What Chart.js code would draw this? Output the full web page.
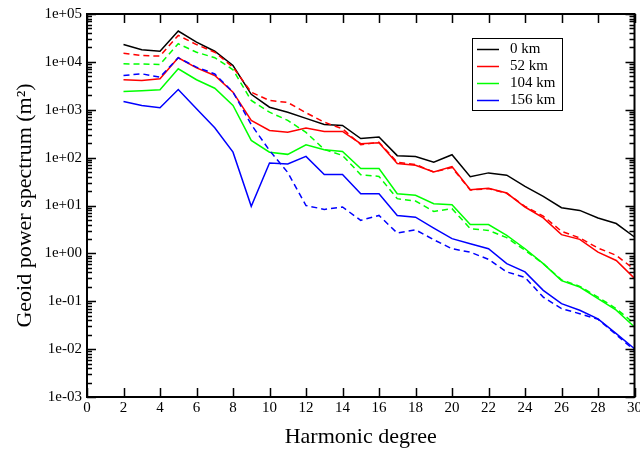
<!DOCTYPE html>
<html>
<head>
<meta charset="utf-8">
<script src="https://cdn.jsdelivr.net/npm/chart.js@4/dist/chart.umd.min.js"></script>
<style>
  html, body { margin: 0; padding: 0; background: #fff; }
  #wrap { width: 640px; height: 450px; }
</style>
</head>
<body>
<div id="wrap"><canvas id="c" width="640" height="450"></canvas></div>
<script>
// Harmonic degrees 2..30
const degrees = [2,3,4,5,6,7,8,9,10,11,12,13,14,15,16,17,18,19,20,21,22,23,24,25,26,27,28,29,30];

// Geoid power spectrum (m^2) per depth; solid and dashed curves
const km0 = [23000,18000,16700,44000,25800,16700,8400,2100,1130,890,660,490,470,250,270,110,106,80,115,40,48,43,25,15.5,9.0,7.9,5.5,4.2,2.2];

const km52Solid  = [4230,4100,4440,12200,7500,5200,2330,600,370,340,413,352,352,195,205,75,69,50,65,21.4,23,18.2,9.3,5.5,2.46,1.96,1.06,0.71,0.30];
const km52Dashed = [15200,13600,13200,35700,23000,15900,7760,2330,1560,1420,865,550,400,186,210,80,72,50,62,21,22.5,18,9.6,6.0,2.9,2.1,1.29,0.91,0.46];

const km104Solid  = [2410,2490,2620,7180,4230,2820,1230,229,130,117,186,146,135,59,59,17.6,16.3,10.9,10.4,4.0,4.0,2.38,1.25,0.61,0.27,0.198,0.113,0.065,0.029];
const km104Dashed = [9120,9000,8830,23900,15900,12200,6840,1560,890,600,336,148,111,44,40.5,13.9,12.4,7.5,8.6,3.28,3.02,2.13,1.16,0.61,0.28,0.205,0.122,0.070,0.034];

const km156Solid  = [1490,1230,1100,2650,1050,421,130,9.6,77,74,106,44.6,44.6,17.6,17.6,6.2,5.7,3.37,2.03,1.59,1.25,0.61,0.41,0.169,0.089,0.065,0.043,0.021,0.0102];
const km156Dashed = [5200,5630,4800,12200,7760,5600,2330,490,141,49,10,8.3,9.3,4.9,6.2,2.65,3.1,1.93,1.25,1.06,0.75,0.41,0.315,0.122,0.070,0.055,0.042,0.020,0.0094];

const seriesNames = ['0 km', '52 km', '104 km', '156 km'];
const seriesColors = ['#000000', '#ff0000', '#00ff00', '#0000ff'];

// x-axis major ticks and y-axis decades
const xTicks = [0,2,4,6,8,10,12,14,16,18,20,22,24,26,28,30];
const yDecades = [-3,-2,-1,0,1,2,3,4,5];

const SERIF = '"Liberation Serif", "Times New Roman", serif';

function pts(values) {
  return degrees.map((d, i) => ({ x: d, y: values[i] }));
}

function line(values, color, dashed, name) {
  return {
    label: name || '',
    data: pts(values),
    borderColor: color,
    backgroundColor: color,
    borderWidth: 1.5,
    borderDash: dashed ? [6, 4] : [],
    pointRadius: 0,
    fill: false,
    tension: 0,
    inLegend: !!name
  };
}

const datasets = [
  line(km156Dashed, seriesColors[3], true),
  line(km104Dashed, seriesColors[2], true),
  line(km52Dashed,  seriesColors[1], true),
  line(km156Solid,  seriesColors[3], false, seriesNames[3]),
  line(km104Solid,  seriesColors[2], false, seriesNames[2]),
  line(km52Solid,   seriesColors[1], false, seriesNames[1]),
  line(km0,         seriesColors[0], false, seriesNames[0])
];

function expLabel(v) {
  const e = Math.round(Math.log10(v));
  return '1e' + (e < 0 ? '-' : '+') + String(Math.abs(e)).padStart(2, '0');
}

// Frame with inward ticks on all four sides, plus the boxed legend
const framePlugin = {
  id: 'frame',
  afterDatasetsDraw(chart) {
    const { ctx, chartArea: a, scales: { x, y } } = chart;
    ctx.save();
    ctx.strokeStyle = '#000';
    ctx.lineWidth = 2;
    ctx.strokeRect(a.left, a.top, a.right - a.left, a.bottom - a.top);

    ctx.lineWidth = 1.5;
    ctx.beginPath();
    xTicks.forEach(v => {
      const px = Math.round(x.getPixelForValue(v)) + 0.5;
      ctx.moveTo(px, a.bottom); ctx.lineTo(px, a.bottom - 9);
      ctx.moveTo(px, a.top);    ctx.lineTo(px, a.top + 9);
    });
    yDecades.forEach(e => {
      const py = Math.round(y.getPixelForValue(Math.pow(10, e))) + 0.5;
      ctx.moveTo(a.left, py);  ctx.lineTo(a.left + 9, py);
      ctx.moveTo(a.right, py); ctx.lineTo(a.right - 9, py);
      if (e < 5) {
        for (let m = 2; m <= 9; m++) {
          const pm = Math.round(y.getPixelForValue(m * Math.pow(10, e))) + 0.5;
          ctx.moveTo(a.left, pm);  ctx.lineTo(a.left + 5, pm);
          ctx.moveTo(a.right, pm); ctx.lineTo(a.right - 5, pm);
        }
      }
    });
    ctx.stroke();

    // legend
    const items = chart.data.datasets.filter(d => d.inLegend).reverse();
    const bx = 472, by = 38, bw = 90, bh = 72;
    ctx.fillStyle = '#fff';
    ctx.fillRect(bx, by, bw, bh);
    ctx.lineWidth = 1;
    ctx.strokeStyle = '#000';
    ctx.strokeRect(bx + 0.5, by + 0.5, bw, bh);
    ctx.font = '15px ' + SERIF;
    ctx.textBaseline = 'middle';
    ctx.textAlign = 'left';
    items.forEach((d, i) => {
      const ly = by + 11.5 + i * 17;
      ctx.strokeStyle = d.borderColor;
      ctx.lineWidth = 1.5;
      ctx.beginPath();
      ctx.moveTo(477, ly); ctx.lineTo(499, ly);
      ctx.stroke();
      ctx.fillStyle = '#000';
      ctx.fillText(d.label, 510, ly);
    });
    ctx.restore();
  }
};

new Chart(document.getElementById('c'), {
  type: 'line',
  data: { datasets },
  options: {
    responsive: false,
    animation: false,
    events: [],
    layout: { padding: { top: 14, right: 5.5, left: 0, bottom: 0 } },
    plugins: { legend: { display: false }, tooltip: { enabled: false } },
    scales: {
      x: {
        type: 'linear',
        min: 0,
        max: 30,
        grid: { display: false, drawTicks: false },
        border: { display: false },
        afterBuildTicks(s) { s.ticks = xTicks.map(v => ({ value: v })); },
        afterFit(s) { s.height = 53; s.paddingLeft = 0; s.paddingRight = 0; },
        ticks: {
          color: '#000',
          font: { family: SERIF, size: 15 },
          padding: 2,
          maxRotation: 0,
          autoSkip: false,
          callback: v => String(v)
        },
        title: {
          display: true,
          text: 'Harmonic degree',
          color: '#000',
          font: { family: SERIF, size: 22 },
          padding: { top: 0, bottom: 0 }
        }
      },
      y: {
        type: 'logarithmic',
        min: 1e-3,
        max: 1e5,
        grid: { display: false, drawTicks: false },
        border: { display: false },
        afterBuildTicks(s) { s.ticks = yDecades.map(e => ({ value: Math.pow(10, e), major: true })); },
        afterFit(s) { s.width = 87; s.paddingTop = 0; s.paddingBottom = 0; },
        ticks: {
          color: '#000',
          font: { family: SERIF, size: 15 },
          padding: 5,
          autoSkip: false,
          callback: v => expLabel(v)
        },
        title: {
          display: true,
          text: 'Geoid power spectrum (m\u00B2)',
          color: '#000',
          font: { family: SERIF, size: 22 },
          padding: { top: 12, bottom: 0 }
        }
      }
    }
  },
  plugins: [framePlugin]
});
</script>
</body>
</html>
